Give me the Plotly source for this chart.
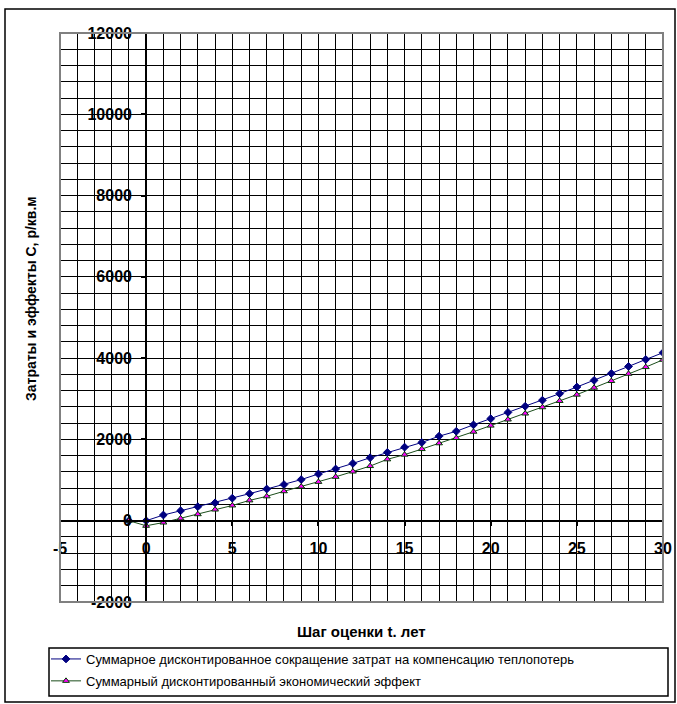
import plotly.graph_objects as go

# ---- data ----
years = list(range(-1, 31))
cost_reduction = [0, 0, 140, 245, 345, 440, 555, 665, 780, 890, 1012, 1150, 1273, 1410,
                  1550, 1680, 1810, 1925, 2080, 2200, 2360, 2510, 2665, 2816, 2965, 3126,
                  3290, 3453, 3624, 3796, 3967, 4135]
econ_effect = [0, -125, -45, 57, 160, 275, 375, 500, 600, 725, 840, 955, 1080, 1210,
               1345, 1510, 1625, 1763, 1905, 2035, 2190, 2340, 2490, 2637, 2792, 2947,
               3102, 3273, 3437, 3616, 3780, 3960]
name1 = "Суммарное дисконтированное сокращение затрат на компенсацию теплопотерь"
name2 = "Суммарный дисконтированный экономический эффект"
x_title = "Шаг оценки t. лет"
y_title = "Затраты и эффекты С, р/кв.м"
x_ticks = [-5, 0, 5, 10, 15, 20, 25, 30]
y_ticks = [-2000, 0, 2000, 4000, 6000, 8000, 10000, 12000]

W, H = 677, 704
L, R, T, B = 60, 14, 33, 102
PW, PH = W - L - R, H - T - B


def px(xp):
    return (xp - L) / PW


def py(yp):
    return (H - B - yp) / PH


FONT = "Liberation Sans, Arial, sans-serif"

fig = go.Figure()
fig.add_trace(go.Scatter(
    x=years, y=cost_reduction, name=name1, mode="lines+markers", legendgroup="g1",
    line=dict(color="#000080", width=1),
    marker=dict(symbol="diamond", size=6, color="#000080", line=dict(color="#000080", width=1)),
))
fig.add_trace(go.Scatter(
    x=years, y=econ_effect, name=name2, mode="lines+markers", legendgroup="g2",
    line=dict(color="#1a4d1a", width=1),
    marker=dict(symbol="triangle-up", size=6, color="#FF00FF", line=dict(color="#004000", width=1)),
))

axis_common = dict(
    showline=True, linecolor="black", linewidth=2,
    ticks="outside", ticklen=4, tickwidth=2, tickcolor="black",
    showgrid=True, gridcolor="black", gridwidth=1,
    zeroline=False, anchor="free",
    tickfont=dict(family=FONT, size=16, color="black"),
)

fig.update_xaxes(
    range=[-5, 30], tickmode="array", tickvals=x_ticks,
    ticktext=["<b>%d</b>" % v for v in x_ticks],
    position=2000 / 14000, ticklabelstandoff=9,
    minor=dict(dtick=1, tick0=0, showgrid=True, gridcolor="black", gridwidth=1, ticks=""),
    **axis_common,
)
fig.update_yaxes(
    range=[-2000, 12000], tickmode="array", tickvals=y_ticks,
    ticktext=["<b>%d</b>" % v for v in y_ticks],
    position=5 / 35, ticklabelstandoff=6,
    minor=dict(dtick=400, tick0=0, showgrid=True, gridcolor="black", gridwidth=1, ticks=""),
    **axis_common,
)

shapes = [
    # plot area border
    dict(type="rect", xref="paper", yref="paper", x0=0, x1=1, y0=0, y1=1,
         line=dict(color="#808080", width=2), layer="above"),
    # outer chart border
    dict(type="rect", xref="paper", yref="paper", x0=px(5), x1=px(675), y0=py(9), y1=py(702),
         line=dict(color="black", width=1.5)),
    # legend box
    dict(type="rect", xref="paper", yref="paper", x0=px(49), x1=px(668), y0=py(648), y1=py(696),
         line=dict(color="black", width=1.5)),
]

annotations = [
    dict(text="<b>%s</b>" % x_title, xref="paper", yref="paper", x=px(361), y=py(631),
         xanchor="center", yanchor="middle", showarrow=False,
         font=dict(family=FONT, size=15, color="black")),
    dict(text="<b>%s</b>" % y_title, xref="paper", yref="paper", x=px(31), y=py(299),
         xanchor="center", yanchor="middle", showarrow=False, textangle=-90,
         font=dict(family=FONT, size=14, color="black")),
]

fig.update_layout(
    width=W, height=H,
    margin=dict(l=L, r=R, t=T, b=B, pad=0, autoexpand=False),
    paper_bgcolor="white", plot_bgcolor="white",
    showlegend=True,
    legend=dict(
        x=px(46), y=py(644), xanchor="left", yanchor="top",
        bgcolor="rgba(0,0,0,0)", borderwidth=0,
        font=dict(family=FONT, size=13, color="black"),
        itemwidth=30, tracegroupgap=2,
    ),
    shapes=shapes, annotations=annotations,
)

fig.write_html("out.html")
